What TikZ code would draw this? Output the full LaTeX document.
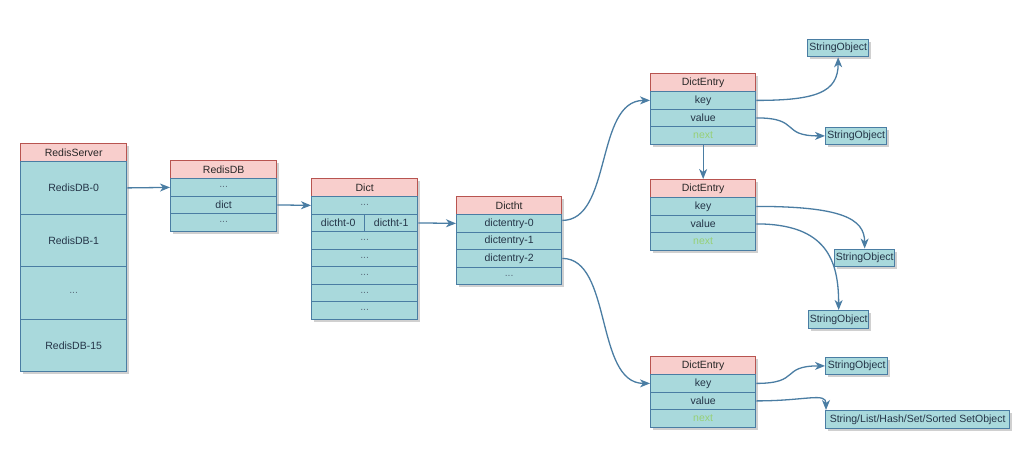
\documentclass[tikz,border=0pt]{standalone}
\usepackage{fontspec}
\setmainfont{Liberation Sans}
\usetikzlibrary{shadows,arrows.meta}
\definecolor{hdrF}{HTML}{F8CECC}
\definecolor{hdrB}{HTML}{B85450}
\definecolor{rowF}{HTML}{A9D9DC}
\definecolor{rowB}{HTML}{4A7DA3}
\definecolor{txt}{HTML}{243447}
\definecolor{dots}{HTML}{5D7080}
\definecolor{nxt}{HTML}{97D077}
\definecolor{conC}{HTML}{4A7DA3}
\tikzset{
  cell/.style={anchor=north west, inner sep=0pt, line width=1.3pt, font=\fontsize{10.5pt}{12pt}\selectfont,
    drop shadow={shadow xshift=2.5pt, shadow yshift=-2.5pt, opacity=0.3, fill=black!60}},
  hdr/.style={cell, draw=hdrB, fill=hdrF, text=black!85},
  rowc/.style={cell, draw=rowB, fill=rowF, text=txt},
  dotc/.style={rowc, text=dots},
  conn/.style={draw=conC, line width=1.3pt, -{Stealth[length=10pt,width=8pt,inset=3pt]}},
}
\begin{document}
\begin{tikzpicture}[x=1pt,y=-1pt]
\useasboundingbox[fill=white] (0,0) rectangle (1029,450);
% RedisServer
\node[hdr, minimum width=106, minimum height=18] (rsh) at (20,143) {RedisServer};
\node[rowc, minimum width=106, minimum height=52.5] (rs0) at (20,161) {RedisDB-0};
\node[rowc, minimum width=106, minimum height=52.5] (rs1) at (20,213.5) {RedisDB-1};
\node[dotc, minimum width=106, minimum height=52.5] (rs2) at (20,266) {...};
\node[rowc, minimum width=106, minimum height=52.5] (rs3) at (20,318.5) {RedisDB-15};
% RedisDB
\node[hdr, minimum width=106, minimum height=18] (dbh) at (170,160) {RedisDB};
\node[dotc, minimum width=106, minimum height=17.5] (db1) at (170,178) {...};
\node[rowc, minimum width=106, minimum height=17.5] (dbd) at (170,195.5) {dict};
\node[dotc, minimum width=106, minimum height=17.5] (db3) at (170,213) {...};
% Dict
\node[hdr, minimum width=106, minimum height=18] (dh) at (311,178) {Dict};
\node[dotc, minimum width=106, minimum height=17.5] (d1) at (311,196) {...};
\node[rowc, minimum width=53, minimum height=17.5] (dh0) at (311,213.5) {dictht-0};
\node[rowc, minimum width=53, minimum height=17.5] (dh1) at (364,213.5) {dictht-1};
\node[dotc, minimum width=106, minimum height=17.5] (d3) at (311,231) {...};
\node[dotc, minimum width=106, minimum height=17.5] (d4) at (311,248.5) {...};
\node[dotc, minimum width=106, minimum height=17.5] (d5) at (311,266) {...};
\node[dotc, minimum width=106, minimum height=17.5] (d6) at (311,283.5) {...};
\node[dotc, minimum width=106, minimum height=17.5] (d7) at (311,301) {...};
% Dictht
\node[hdr, minimum width=105, minimum height=18] (th) at (456,196) {Dictht};
\node[rowc, minimum width=105, minimum height=17.5] (t0) at (456,214) {dictentry-0};
\node[rowc, minimum width=105, minimum height=17.5] (t1) at (456,231.5) {dictentry-1};
\node[rowc, minimum width=105, minimum height=17.5] (t2) at (456,249) {dictentry-2};
\node[dotc, minimum width=105, minimum height=17.5] (t3) at (456,266.5) {...};
% DictEntry 1
\node[hdr, minimum width=105, minimum height=18] (ah) at (650,73) {DictEntry};
\node[rowc, minimum width=105, minimum height=17.5] (ak) at (650,91) {key};
\node[rowc, minimum width=105, minimum height=17.5] (av) at (650,108.5) {value};
\node[rowc, minimum width=105, minimum height=17.5, text=nxt] (an) at (650,126) {next};
% DictEntry 2
\node[hdr, minimum width=105, minimum height=18] (bh) at (650,179) {DictEntry};
\node[rowc, minimum width=105, minimum height=17.5] (bk) at (650,197) {key};
\node[rowc, minimum width=105, minimum height=17.5] (bv) at (650,214.5) {value};
\node[rowc, minimum width=105, minimum height=17.5, text=nxt] (bn) at (650,232) {next};
% DictEntry 3
\node[hdr, minimum width=105, minimum height=18] (ch) at (650,356) {DictEntry};
\node[rowc, minimum width=105, minimum height=17.5] (ck) at (650,374) {key};
\node[rowc, minimum width=105, minimum height=17.5] (cv) at (650,391.5) {value};
\node[rowc, minimum width=105, minimum height=17.5, text=nxt] (cn) at (650,409) {next};
% StringObjects
\node[rowc, minimum width=61, minimum height=17.5] (so1) at (807,38.5) {StringObject};
\node[rowc, minimum width=61, minimum height=17.5] (so2) at (825,126.5) {StringObject};
\node[rowc, minimum width=60, minimum height=17.5] (so3) at (834,248.5) {StringObject};
\node[rowc, minimum width=60, minimum height=17.5] (so4) at (808,310) {StringObject};
\node[rowc, minimum width=62, minimum height=17.5] (so5) at (825,356.5) {StringObject};
\node[rowc, minimum width=184, minimum height=17.5] (so6) at (825,410) {String/List/Hash/Set/Sorted SetObject};
% connectors
\draw[conn] (rs0.east) -- (db1.west);
\draw[conn] (dbd.east) -- (d1.west);
\draw[conn] (dh1.east) -- (t0.west);
\draw[conn] ([yshift=3pt]t0.east) .. controls +(50,0) and +(-55,0) .. (ak.west);
\draw[conn] (t2.east) .. controls +(50,0) and +(-55,0) .. (ck.west);
\draw[conn] (an.south) -- (bh.north);
\draw[conn] (ak.east) .. controls +(60,0) and +(0,35) .. (so1.south);
\draw[conn] (av.east) .. controls +(45,0) and +(-45,0) .. (so2.west);
\draw[conn] (bk.east) .. controls +(85,0) and +(0,-30) .. (so3.north);
\draw[conn] (bv.east) .. controls +(70,0) and +(0,-50) .. (so4.north);
\draw[conn] (ck.east) .. controls +(45,0) and +(-45,0) .. (so5.west);
\draw[conn] (cv.east) .. controls +(50,0) and +(0,-18) .. ([xshift=1pt]so6.north west);
\end{tikzpicture}
\end{document}
